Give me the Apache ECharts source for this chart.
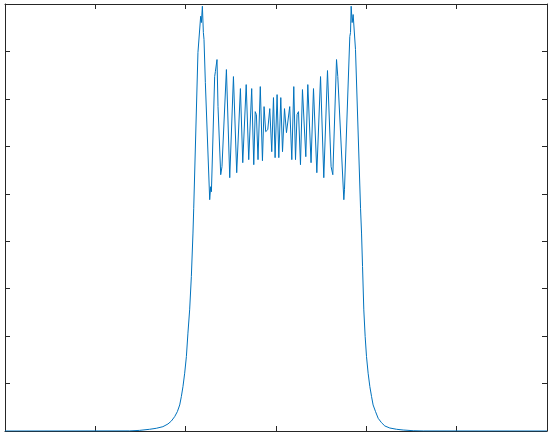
<!DOCTYPE html>
<html>
<head>
<meta charset="utf-8">
<script src="https://cdn.jsdelivr.net/npm/echarts@6/dist/echarts.min.js"></script>
<style>
html,body{margin:0;padding:0;background:#fff;}
#chart{width:550px;height:436px;}
</style>
</head>
<body>
<div id="chart"></div>
<script>
// Curve vertices (x in axis units 0..6, y in axis units 0..9)
var xs = [0, 1.380, 1.490, 1.601, 1.675, 1.748, 1.804, 1.842, 1.878, 1.908, 1.934, 1.952, 1.970, 1.989, 2.008, 2.025, 2.044, 2.063, 2.081, 2.089, 2.136, 2.166, 2.174, 2.185, 2.196, 2.203, 2.218, 2.266, 2.277, 2.285, 2.321, 2.329, 2.347, 2.358, 2.388, 2.402, 2.451, 2.488, 2.529, 2.565, 2.606, 2.632, 2.670, 2.698, 2.731, 2.754, 2.770, 2.783, 2.801, 2.826, 2.850, 2.868, 2.886, 2.909, 2.931, 2.953, 2.972, 2.990, 3.012, 3.031, 3.053, 3.072, 3.094, 3.116, 3.130, 3.152, 3.175, 3.197, 3.216, 3.233, 3.249, 3.271, 3.293, 3.330, 3.352, 3.388, 3.415, 3.452, 3.493, 3.529, 3.570, 3.610, 3.629, 3.670, 3.684, 3.751, 3.758, 3.817, 3.825, 3.832, 3.843, 3.854, 3.880, 3.936, 3.947, 3.958, 3.972, 3.987, 4.002, 4.020, 4.039, 4.058, 4.075, 4.102, 4.131, 4.168, 4.205, 4.260, 4.335, 4.408, 4.519, 4.630, 6.0];
var ys = [0, 0.002, 0.013, 0.036, 0.057, 0.091, 0.148, 0.211, 0.302, 0.408, 0.549, 0.724, 0.935, 1.218, 1.568, 2.062, 2.553, 3.256, 4.172, 4.685, 7.976, 8.742, 8.609, 8.953, 8.398, 8.251, 7.343, 4.875, 5.149, 5.043, 7.470, 7.575, 7.829, 6.837, 5.402, 5.571, 7.618, 5.339, 7.470, 5.444, 7.217, 5.655, 7.301, 5.719, 7.217, 5.613, 6.731, 6.668, 5.719, 7.259, 5.697, 6.837, 6.309, 6.352, 6.795, 5.887, 7.027, 5.761, 7.090, 5.761, 7.027, 5.887, 6.795, 6.288, 6.309, 6.837, 5.719, 7.259, 5.719, 6.668, 6.731, 5.613, 7.196, 5.782, 7.301, 5.655, 7.217, 5.444, 7.470, 5.339, 7.597, 5.571, 5.402, 7.829, 7.470, 4.875, 5.085, 8.314, 8.398, 8.953, 8.609, 8.778, 8.040, 4.685, 4.172, 3.467, 2.553, 1.990, 1.568, 1.218, 0.935, 0.724, 0.549, 0.408, 0.268, 0.175, 0.106, 0.063, 0.036, 0.021, 0.006, 0.001, 0];
var xTicks = [0, 1, 2, 3, 4, 5, 6];
var yTicks = [0, 1, 2, 3, 4, 5, 6, 7, 8, 9];

var axisColor = '#262626';
function makeAxis(pos, ticks) {
  return {
    type: 'value',
    position: pos,
    min: ticks[0],
    max: ticks[ticks.length - 1],
    interval: 1,
    axisLine: {show: true, onZero: false, lineStyle: {color: axisColor, width: 1}},
    axisTick: {show: true, inside: true, length: 5, lineStyle: {color: axisColor, width: 1}},
    axisLabel: {show: false},
    splitLine: {show: false}
  };
}

var chart = echarts.init(document.getElementById('chart'), null, {renderer: 'canvas'});
chart.setOption({
  animation: false,
  backgroundColor: '#ffffff',
  grid: {left: 5, right: 3, top: 4, bottom: 5, containLabel: false},
  xAxis: [makeAxis('bottom', xTicks), makeAxis('top', xTicks)],
  yAxis: [makeAxis('left', yTicks), makeAxis('right', yTicks)],
  series: [{
    type: 'line',
    xAxisIndex: 0,
    yAxisIndex: 0,
    showSymbol: false,
    symbol: 'none',
    lineStyle: {color: '#0072BD', width: 1},
    data: xs.map(function (x, i) { return [x, ys[i]]; })
  }]
});
</script>
</body>
</html>
